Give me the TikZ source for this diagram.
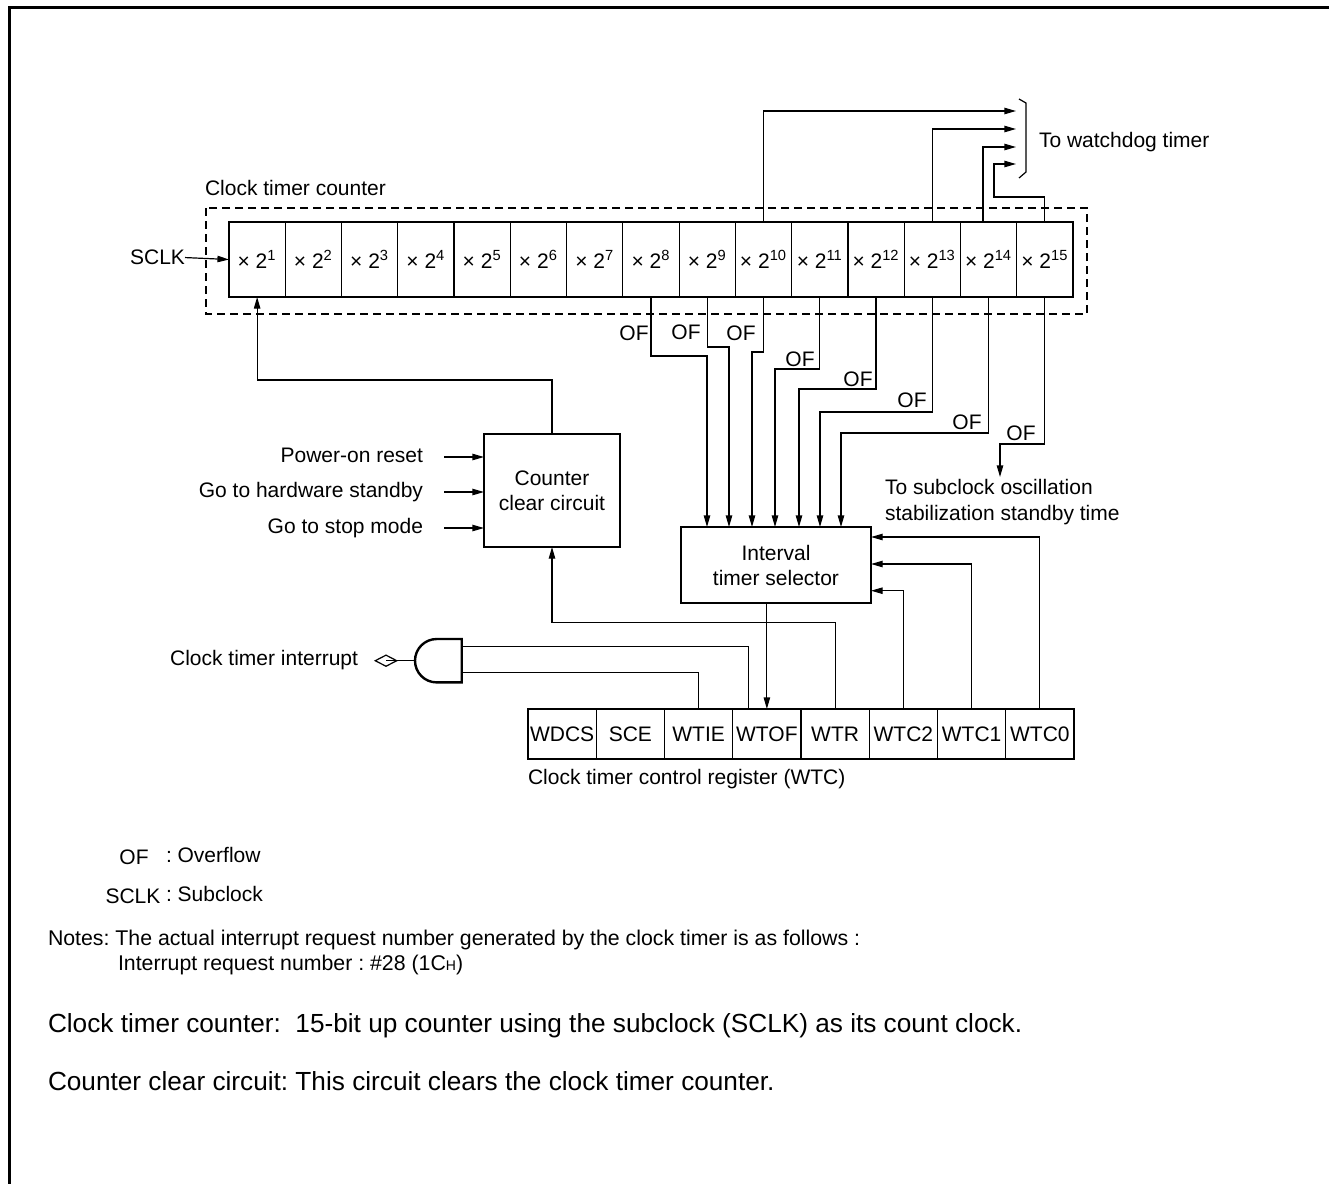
\documentclass[tikz,border=0pt]{standalone}
\usepackage{fontspec}
\setmainfont{Liberation Sans}
\usetikzlibrary{arrows.meta,shapes.geometric}
\frenchspacing
\tikzset{
  cell/.style={draw, line width=0.6pt, inner sep=0pt, outer sep=0pt, anchor=west},
  box/.style={draw, line width=1.4pt, align=center, inner sep=0pt, outer sep=0pt},
  lbl/.style={inner sep=0pt, outer sep=0pt},
  body/.style={lbl, anchor=mid west, font=\fontsize{13.1}{15}\selectfont},
  sig/.style={line width=0.6pt},
  arr/.style={sig, -{Triangle[length=5.8pt,width=3.2pt]}},
}
\newcommand*{\RegRow}[3]{% #1 = list of name/text, #2 = x of left edge, #3 = y
\foreach \n/\t [count=\k] in {#1} {
\node [cell, minimum width=34.125pt, minimum height=25pt]
(\n) at (#2+68.25*\k-68.25,#3) {\t};
}%
}

\begin{document}
\begin{tikzpicture}[x=0.5pt,y=-0.5pt,font=\fontsize{10.5}{12.5}\selectfont]
\useasboundingbox (0,0) rectangle (1329,1184);
\draw[line width=1.5pt] (9,1190) -- (9,7) -- (1335,7);

% clock timer counter
\node[lbl, anchor=mid west] (ctc) at (205,190) {Clock timer counter};
\draw[sig, dash pattern=on 4pt off 2.5pt] (206,208) rectangle (1087,314);
\foreach \i in {1,...,15}
  \node[cell, minimum width=28.133pt, minimum height=37.5pt]
  (c\i) at (229+56.267*\i-56.267,259.5) {× 2\textsuperscript{\i}};
\draw[line width=1.4pt] (c1.north west) rectangle (c15.south east);
\node[lbl, anchor=mid east] (sclk) at (185,259.5) {SCLK};
\draw[arr] (sclk.east) -- (c1.west);

% to watchdog timer
\coordinate (wd1) at (1016,111);
\coordinate (wd2) at (1016,129);
\coordinate (wd3) at (1016,147);
\coordinate (wd4) at (1016,164);
\draw[arr] (c10.north) |- (wd1);
\draw[arr] (c13.north) |- (wd2);
\draw[arr] ([xshift=-2.8pt]c14.north) |- (wd3);
\draw[arr] (c15.north) |- (994,197) |- (wd4);
\draw[sig] (1019,99) -- (1026,103) -- (1026,172) -- (1019,178);
\node[lbl, anchor=mid west] (wdt) at (1039,142) {To watchdog timer};

% interval timer selector
\node[box, minimum width=95pt, minimum height=38pt] (sel) at (776,565) {Interval\\timer selector};
\foreach \c/\yy/\xx in {8/356/707,9/347/729,10/352/752,11/369/775,12/389/799,13/412/820,14/433/841}
  \draw[arr] (c\c.south) |- (\xx,\yy) coordinate (of\c) -- (of\c |- sel.north);
\node[lbl, anchor=north west, align=left, font=\fontsize{10.5}{13}\selectfont]
  (sub) at (885,479) {To subclock oscillation\\stabilization standby time};
\draw[arr] (c15.south) |- (1000,444) coordinate (of15) -- ([yshift=1pt]of15 |- sub.north);
\foreach \xx/\yy [count=\k] in {634/333,686/332,741/333,800/359,858/379,912/400,967/422,1021/433}
  \node[lbl] (oflbl\k) at (\xx,\yy) {OF};

% counter clear circuit
\node[box, minimum width=68pt, minimum height=56.5pt] (clr) at (552,490.5) {Counter\\clear circuit};
\foreach \n/\t/\yy in {por/Power-on reset/457,hws/Go to hardware standby/492,stp/Go to stop mode/528} {
  \node[lbl, anchor=mid east] (\n) at (423,\yy) {\t};
  \draw[arr] (\n.mid east) ++(21,0) -- (\n.mid east -| clr.west);
}
\draw[arr] (clr.north) |- ([yshift=-41.5pt]c1.south) -- (c1.south);

% clock timer control register
\RegRow{wdcs/WDCS,sce/SCE,wtie/WTIE,wtof/WTOF,wtr/WTR,wtc2/WTC2,wtc1/WTC1,wtc0/WTC0}{528}{734}
\draw[line width=1.4pt] (wdcs.north west) rectangle (wtc0.south east);
\node[lbl, anchor=mid west] (wtclbl) at (528,779) {Clock timer control register (WTC)};
\draw[arr] (sel.south -| wtof.north) -- (wtof.north);
\draw[arr] (wtr.north) |- ([yshift=-37.85pt]clr.south) -- (clr.south);
\foreach \n/\s in {wtc2/-12.85pt,wtc1/0.5pt,wtc0/14pt}
  \draw[arr] (\n.north) |- ([yshift=\s]sel.east);

% and gate
\draw[line width=1.2pt] (461.7,639) -- (436.7,639) arc[start angle=90, end angle=270, radius=10.85pt]
  -- (461.7,682.3) -- cycle;
\coordinate (gin1) at (461.7,646.7);
\coordinate (gin2) at (461.7,672.7);
\coordinate (gout) at (415,660.7);
\draw[sig] ([xshift=-9.25pt]wtof.north) |- (gin1);
\draw[sig] (wtie.north) |- (gin2);
\node[draw, sig, diamond, aspect=2, minimum width=11pt, minimum height=5.8pt, inner sep=0pt]
  (ton) at (386,660.7) {};
\draw[sig] (gout) -- (ton.center);
\node[lbl, anchor=mid east] (cti) at (358,660.7) {Clock timer interrupt};

% notes
\node[lbl] (ofk) at (134,857) {OF};
\node[lbl, anchor=mid west] (ofv) at (166,857) {: Overflow};
\node[lbl] (sck) at (133,896) {SCLK};
\node[lbl, anchor=mid west] (scv) at (166,896) {: Subclock};
\node[lbl, anchor=mid west, font=\fontsize{10.65}{12.5}\selectfont] (nt1) at (48,940)
  {Notes: The actual interrupt request number generated by the clock timer is as follows :};
\node[lbl, anchor=mid west, font=\fontsize{10.65}{12.5}\selectfont] (nt2) at (118,965)
  {Interrupt request number : \#28 (1C{\fontsize{7}{8}\selectfont H})};
\node[body] (nt3) at (48,1027) {Clock timer counter:\ \ 15-bit up counter using the subclock (SCLK) as its count clock.};
\node[body] (nt4) at (48,1085) {Counter clear circuit: This circuit clears the clock timer counter.};
\end{tikzpicture}
\end{document}
